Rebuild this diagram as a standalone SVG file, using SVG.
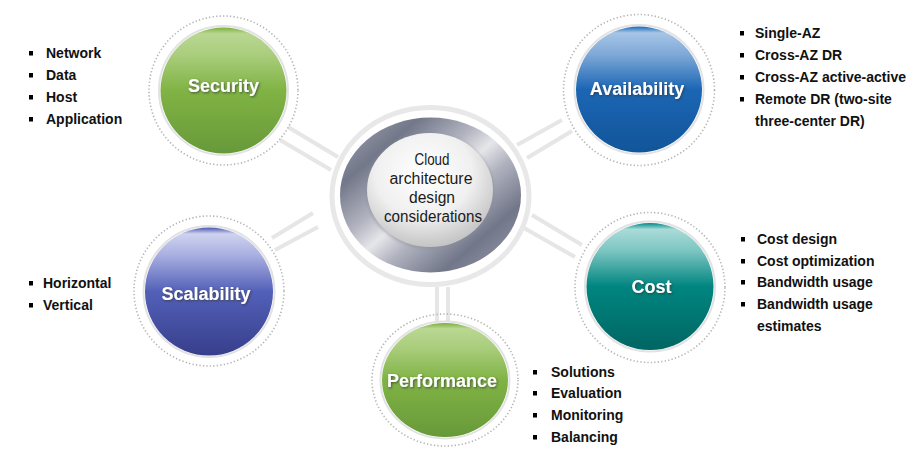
<svg xmlns="http://www.w3.org/2000/svg" width="913" height="451" viewBox="0 0 913 451">
<style>
.dots{fill:none;stroke:#b4b4b4;stroke-width:1.6;stroke-dasharray:1.3 2.2}
.rim{fill:none;stroke:#e2e2e2;stroke-width:2}
.lbl{font-family:"Liberation Sans",Arial,sans-serif;font-weight:bold;font-size:18px;fill:#ffffff;text-anchor:middle;filter:url(#ts)}
.li{font-family:"Liberation Sans",Arial,sans-serif;font-weight:bold;font-size:14px;fill:#111111}
.ctr{font-family:"Liberation Sans",Arial,sans-serif;font-size:16px;fill:#1a1a1a;text-anchor:middle}
.con line{stroke:#e6e6e6;stroke-width:4;stroke-linecap:butt}
</style>
<defs>
<filter id="ts" x="-20%" y="-40%" width="140%" height="180%">
<feDropShadow dx="1" dy="1.2" stdDeviation="0.8" flood-color="#333333" flood-opacity="0.7"/>
</filter>
<filter id="glow" x="-20%" y="-20%" width="140%" height="140%">
<feGaussianBlur stdDeviation="1.5"/>
</filter>
<linearGradient id="gGreen" x1="0" y1="0" x2="0" y2="1">
<stop offset="0" stop-color="#7cb040"/>
<stop offset="0.05" stop-color="#b9d792"/>
<stop offset="0.22" stop-color="#a9cd7c"/>
<stop offset="0.5" stop-color="#80b344"/>
<stop offset="1" stop-color="#68993a"/>
</linearGradient>
<linearGradient id="gBlue" x1="0" y1="0" x2="0" y2="1">
<stop offset="0" stop-color="#1a68b8"/>
<stop offset="0.05" stop-color="#a6c5e6"/>
<stop offset="0.22" stop-color="#7fa9d8"/>
<stop offset="0.5" stop-color="#1b66b4"/>
<stop offset="1" stop-color="#125599"/>
</linearGradient>
<linearGradient id="gTeal" x1="0" y1="0" x2="0" y2="1">
<stop offset="0" stop-color="#008a86"/>
<stop offset="0.05" stop-color="#a9dbd8"/>
<stop offset="0.22" stop-color="#7cc5c1"/>
<stop offset="0.5" stop-color="#008580"/>
<stop offset="1" stop-color="#006663"/>
</linearGradient>
<linearGradient id="gPurple" x1="0" y1="0" x2="0" y2="1">
<stop offset="0" stop-color="#4a56b0"/>
<stop offset="0.05" stop-color="#cfd3ef"/>
<stop offset="0.22" stop-color="#a8aee0"/>
<stop offset="0.5" stop-color="#5360b8"/>
<stop offset="1" stop-color="#373f8c"/>
</linearGradient>
<linearGradient id="gRing" x1="0" y1="0" x2="1" y2="1">
<stop offset="0" stop-color="#a9acba"/>
<stop offset="0.22" stop-color="#727789"/>
<stop offset="0.4" stop-color="#b3b5c1"/>
<stop offset="0.5" stop-color="#e6e6ea"/>
<stop offset="0.6" stop-color="#b1b3bf"/>
<stop offset="0.78" stop-color="#717689"/>
<stop offset="1" stop-color="#a0a3b2"/>
</linearGradient>
<radialGradient id="gInner" cx="0.45" cy="0.35" r="0.7">
<stop offset="0" stop-color="#ffffff"/>
<stop offset="0.55" stop-color="#f0f0f0"/>
<stop offset="1" stop-color="#bcbcbc"/>
</radialGradient>
</defs>

<g id="connectors" class="con">
<line x1="288" y1="127" x2="338" y2="157"/>
<line x1="280" y1="140" x2="331" y2="170"/>
<line x1="313" y1="213" x2="272" y2="238"/>
<line x1="318" y1="227" x2="275" y2="250"/>
<line x1="562" y1="120" x2="517" y2="145"/>
<line x1="572" y1="131" x2="527" y2="158"/>
<line x1="532" y1="215" x2="582" y2="245"/>
<line x1="524" y1="228" x2="575" y2="257"/>
<line x1="437" y1="287" x2="437" y2="322"/>
<line x1="448" y1="287" x2="448" y2="322"/>
</g>

<g id="center">
<ellipse cx="430.5" cy="196" rx="98.5" ry="88.5" fill="#ffffff" stroke="#e8e8e8" stroke-width="5"/>
<ellipse cx="430.5" cy="195" rx="90.5" ry="77.5" fill="url(#gRing)"/>
<ellipse cx="430" cy="191" rx="64" ry="58" fill="#8a8d99" opacity="0.5" filter="url(#glow)"/>
<ellipse cx="430" cy="190" rx="63" ry="57" fill="url(#gInner)"/>
<text class="ctr" x="432" y="165" textLength="35" lengthAdjust="spacingAndGlyphs">Cloud</text>
<text class="ctr" x="431" y="184" textLength="83" lengthAdjust="spacingAndGlyphs">architecture</text>
<text class="ctr" x="432" y="203" textLength="46" lengthAdjust="spacingAndGlyphs">design</text>
<text class="ctr" x="433" y="222" textLength="98" lengthAdjust="spacingAndGlyphs">considerations</text>
</g>

<g id="security">
<circle class="dots" cx="223.5" cy="90.5" r="74.5"/>
<circle class="rim" cx="223.5" cy="90.5" r="64.5"/>
<circle cx="223.5" cy="90.5" r="63" fill="url(#gGreen)"/>
<text class="lbl" x="223.5" y="92">Security</text>
</g>

<g id="availability">
<circle class="dots" cx="639" cy="90" r="75.5"/>
<circle class="rim" cx="639" cy="89.5" r="64.5"/>
<circle cx="639" cy="89.5" r="63" fill="url(#gBlue)"/>
<text class="lbl" x="637" y="95">Availability</text>
</g>

<g id="cost">
<circle class="dots" cx="650" cy="287.5" r="75"/>
<circle class="rim" cx="650" cy="286.5" r="65"/>
<circle cx="650" cy="286.5" r="63.5" fill="url(#gTeal)"/>
<text class="lbl" x="651.5" y="293">Cost</text>
</g>

<g id="scalability">
<circle class="dots" cx="209" cy="291" r="75"/>
<circle class="rim" cx="209" cy="291.5" r="65.5"/>
<circle cx="209" cy="291.5" r="64" fill="url(#gPurple)"/>
<text class="lbl" x="206" y="300">Scalability</text>
</g>

<g id="performance">
<ellipse class="dots" cx="445" cy="380" rx="73" ry="66"/>
<ellipse class="rim" cx="445" cy="380" rx="64.5" ry="58.5"/>
<ellipse cx="445" cy="380" rx="63" ry="57" fill="url(#gGreen)"/>
<text class="lbl" x="442" y="387">Performance</text>
</g>

<g id="security-list">
<rect x="29" y="51" width="4" height="4.5"/>
<text class="li" x="46" y="58">Network</text>
<rect x="29" y="73" width="4" height="4.5"/>
<text class="li" x="46" y="80">Data</text>
<rect x="29" y="95" width="4" height="4.5"/>
<text class="li" x="46" y="102">Host</text>
<rect x="29" y="117" width="4" height="4.5"/>
<text class="li" x="46" y="124">Application</text>
</g>

<g id="availability-list">
<rect x="740" y="31" width="4" height="4.5"/>
<text class="li" x="755" y="38">Single-AZ</text>
<rect x="740" y="53" width="4" height="4.5"/>
<text class="li" x="755" y="60">Cross-AZ DR</text>
<rect x="740" y="75" width="4" height="4.5"/>
<text class="li" x="755" y="82">Cross-AZ active-active</text>
<rect x="740" y="97" width="4" height="4.5"/>
<text class="li" x="755" y="104">Remote DR (two-site</text>
<text class="li" x="755" y="126">three-center DR)</text>
</g>

<g id="cost-list">
<rect x="741" y="237" width="4" height="4.5"/>
<text class="li" x="757" y="244">Cost design</text>
<rect x="741" y="259" width="4" height="4.5"/>
<text class="li" x="757" y="266">Cost optimization</text>
<rect x="741" y="280" width="4" height="4.5"/>
<text class="li" x="757" y="287">Bandwidth usage</text>
<rect x="741" y="302" width="4" height="4.5"/>
<text class="li" x="757" y="309">Bandwidth usage</text>
<text class="li" x="757" y="331">estimates</text>
</g>

<g id="scalability-list">
<rect x="29" y="281" width="4" height="4.5"/>
<text class="li" x="43" y="288">Horizontal</text>
<rect x="29" y="303" width="4" height="4.5"/>
<text class="li" x="43" y="310">Vertical</text>
</g>

<g id="performance-list">
<rect x="533" y="370" width="4" height="4.5"/>
<text class="li" x="551" y="377">Solutions</text>
<rect x="533" y="391" width="4" height="4.5"/>
<text class="li" x="551" y="398">Evaluation</text>
<rect x="533" y="413" width="4" height="4.5"/>
<text class="li" x="551" y="420">Monitoring</text>
<rect x="533" y="435" width="4" height="4.5"/>
<text class="li" x="551" y="442">Balancing</text>
</g>
</svg>
